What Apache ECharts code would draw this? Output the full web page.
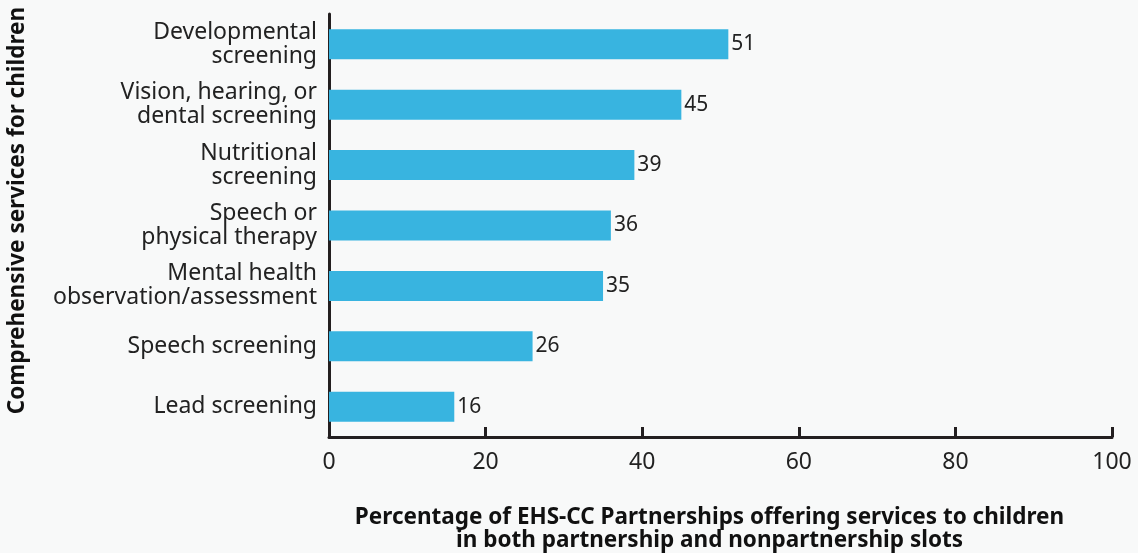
<!DOCTYPE html>
<html>
<head>
<meta charset="utf-8">
<script src="https://cdn.jsdelivr.net/npm/echarts@6/dist/echarts.min.js"></script>
<style>
  html, body { margin: 0; padding: 0; background: #f8f9f9; }
  #chart { width: 1138px; height: 553px; }
</style>
</head>
<body>
<div id="chart"></div>
<script>
// categories listed bottom-to-top (ECharts category y axis starts at the bottom)
const services = [
  'Lead screening',
  'Speech screening',
  'Mental health\nobservation/assessment',
  'Speech or\nphysical therapy',
  'Nutritional\nscreening',
  'Vision, hearing, or\ndental screening',
  'Developmental\nscreening'
];
const percentOffering = [16, 26, 35, 36, 39, 45, 51];
const xTicks = [0, 20, 40, 60, 80, 100];

const myChart = echarts.init(document.getElementById('chart'));
const font = '"Noto Sans", sans-serif';

const option = {
  backgroundColor: '#f8f9f9',
  animation: false,
  textStyle: { fontFamily: font },
  grid: { left: 329, right: 26, top: 14, bottom: 116, containLabel: false, outerBoundsMode: 'none' },
  xAxis: {
    type: 'value',
    min: xTicks[0],
    max: xTicks[xTicks.length - 1],
    interval: 20,
    name: 'Percentage of EHS-CC Partnerships offering services to children\nin both partnership and nonpartnership slots',
    nameLocation: 'middle',
    nameGap: 69,
    nameTextStyle: { fontSize: 22.5, fontWeight: 'bold', color: '#111', lineHeight: 23, fontFamily: font, padding: [0, 22, 0, 0] },
    axisLine: { show: true, lineStyle: { color: '#231f20', width: 3 } },
    axisTick: { show: true, inside: true, length: 10, lineStyle: { color: '#231f20', width: 3 } },
    axisLabel: { fontSize: 23, color: '#222', margin: 14, fontFamily: font },
    splitLine: { show: false }
  },
  yAxis: {
    type: 'category',
    data: services,
    name: 'Comprehensive services for children',
    nameLocation: 'middle',
    nameGap: 300,
    nameRotate: 90,
    nameTextStyle: { fontSize: 22.5, fontWeight: 'bold', color: '#111', fontFamily: font, padding: [0, 0, 0, 30] },
    axisLine: { show: true, lineStyle: { color: '#231f20', width: 3 } },
    axisTick: { show: false },
    axisLabel: { fontSize: 23, color: '#222', margin: 12, lineHeight: 24, align: 'right', fontFamily: font },
    splitLine: { show: false }
  },
  series: [{
    type: 'bar',
    data: percentOffering,
    barWidth: 30,
    itemStyle: { color: '#38b4e0' },
    label: {
      show: true,
      position: 'right',
      distance: 3,
      fontSize: 21,
      color: '#222',
      fontFamily: font
    }
  }]
};

myChart.setOption(option);
window.addEventListener('resize', () => myChart.resize());
</script>
</body>
</html>
